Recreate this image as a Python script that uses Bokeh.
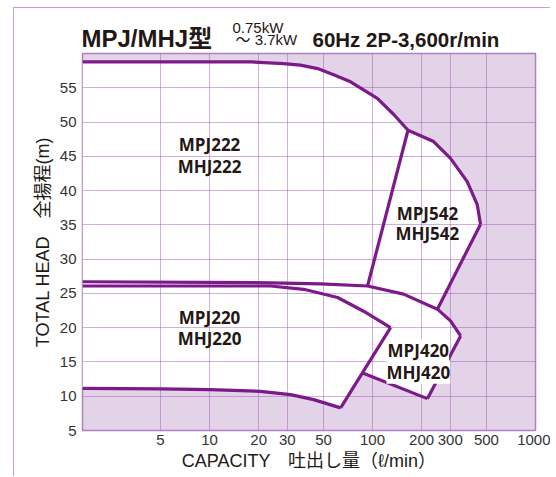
from bokeh.plotting import figure
from bokeh.layouts import column, row
from bokeh.models import FixedTicker, Label, Range1d, NumeralTickFormatter, Div
from bokeh.core.properties import value
from bokeh.embed import file_html
from bokeh.resources import INLINE

# ---- data (capacity l/min, head m) ----
# MPJ222 head curve
a_x = [1.66, 17.8, 28.4, 36.1, 46.0, 57.7, 73.3, 107, 135, 165]
a_y = [58.78, 58.78, 58.53, 58.3, 57.8, 56.9, 55.87, 53.44, 51.1, 48.8]
# MPJ542 head curve
b_x = [165, 237, 301, 381, 439, 460]
b_y = [48.8, 47.15, 44.7, 41.3, 37.95, 35.1]
# MPJ542 right boundary
c_x = [460, 250]
c_y = [35.1, 22.7]
# MPJ542 left boundary
k_x = [165, 93.2]
k_y = [48.8, 26.08]
# MPJ420 head curve
d_x = [1.66, 23.7, 48.0, 93.2, 155, 250, 301, 347]
d_y = [26.7, 26.55, 26.4, 26.08, 24.9, 22.7, 21.0, 18.8]
# MPJ420 lower boundary
f_x = [217, 87]
f_y = [9.65, 13.4]
# MPJ220 head curve
h_x = [1.66, 23.7, 37.8, 61.0, 88.1, 129]
h_y = [26.08, 26.08, 25.6, 24.4, 22.4, 20.0]
# MPJ220 right boundary
j_x = [63.7, 129]
j_y = [8.3, 20.0]
# lower limit curve
i_x = [1.66, 5, 10.1, 20.5, 31.4, 43.5, 53, 63.7]
i_y = [11.15, 11.06, 10.96, 10.71, 10.23, 9.5, 8.88, 8.3]

x_ticks = [5, 10, 20, 30, 50, 100, 200, 300, 500, 1000]
y_ticks = [5, 10, 15, 20, 25, 30, 35, 40, 45, 50, 55]
y_grid = [5, 10, 15, 20, 25, 30, 35, 40, 45, 50, 55, 60]

model_text = ["MPJ222", "MHJ222", "MPJ542", "MHJ542", "MPJ220", "MHJ220", "MPJ420", "MHJ420"]
model_x = [10, 10, 217, 217, 10, 10, 191, 191]
model_y = [46.7, 43.5, 36.7, 33.7, 21.5, 18.4, 16.7, 13.5]

title_text = ["MPJ/MHJ型", "0.75kW", "～ 3.7kW", "60Hz 2P-3,600r/min"]

CURVE = "#7b1a88"
SHADE = "#e2d3e8"
GRID = "#9b4fb0"
FRAME = "#c69dd1"
TXT = "#231815"
FONT = "Liberation Sans, 'Noto Sans CJK JP'"

X0 = 14           # page x where the figures start (inside the outer frame)
W = 536           # figure width
BL, BR = 68, 15   # left / right borders shared by both figures
FX0, FX1 = X0 + BL, X0 + W - BR   # frame in page pixels
HY0, HY1 = 8, 52                  # header strip in page pixels
H_MAIN = 476 - HY1

# ---- header strip (page-pixel coordinates, y downwards) ----
top = figure(width=W, height=HY1 - HY0, x_range=Range1d(FX0, FX1), y_range=Range1d(HY1, HY0),
             output_backend="svg", toolbar_location=None,
             x_axis_location=None, y_axis_location=None,
             min_border_left=BL, min_border_right=BR,
             min_border_top=0, min_border_bottom=0)
top.grid.visible = False
top.outline_line_color = None
top.background_fill_color = "white"
top.border_fill_color = "white"
top.text([FX0 - 1], [38.3], text=[title_text[0]], text_font=value(FONT), text_font_style="bold",
         text_font_size="24px", text_color=TXT, text_baseline="alphabetic")
top.text([232, 235], [27, 38.5], text=title_text[1:3], text_font=value(FONT),
         text_font_size="15px", text_color=TXT, text_baseline="alphabetic")
top.text([312], [38.5], text=[title_text[3]], text_font=value(FONT), text_font_style="bold",
         text_font_size="20.5px", text_color=TXT, text_baseline="alphabetic")

# ---- main chart ----
p = figure(width=W, height=H_MAIN, x_axis_type="log",
           x_range=Range1d(1.66, 1000), y_range=Range1d(5, 60),
           output_backend="svg", toolbar_location=None,
           min_border_left=BL, min_border_right=BR,
           min_border_top=1, min_border_bottom=46)
p.background_fill_color = SHADE
p.border_fill_color = "white"
p.outline_line_color = "#b07fc0"
p.outline_line_width = 1.5

# white operating region (union of model ranges)
i_d = d_x.index(c_x[1])
poly_x = a_x + b_x[1:] + d_x[i_d:] + f_x + i_x[::-1]
poly_y = a_y + b_y[1:] + d_y[i_d:] + f_y + i_y[::-1]
p.patch(poly_x, poly_y, fill_color="white", line_color=None, level="image")

# grid
p.xgrid.ticker = FixedTicker(ticks=x_ticks)
p.ygrid.ticker = FixedTicker(ticks=y_grid)
for g in (p.xgrid, p.ygrid):
    g.grid_line_color = GRID
    g.grid_line_alpha = 0.45
    g.grid_line_width = 1

# curves
e_x = [d_x[-1], f_x[0]]
e_y = [d_y[-1], f_y[0]]
for xs, ys in [(a_x, a_y), (b_x, b_y), (c_x, c_y), (k_x, k_y), (d_x, d_y),
               (e_x, e_y), (f_x, f_y), (h_x, h_y), (j_x, j_y), (i_x, i_y)]:
    p.line(xs, ys, line_color=CURVE, line_width=3.2, line_join="round")

# axes
for ax in (p.xaxis[0], p.yaxis[0]):
    ax.axis_line_color = None
    ax.major_tick_line_color = None
    ax.minor_tick_line_color = None
    ax.major_tick_out = 0
    ax.major_tick_in = 0
    ax.major_label_text_font = "Liberation Sans"
    ax.major_label_text_font_size = "15px"
    ax.major_label_text_color = "#333333"
    ax.axis_label_text_font = FONT
    ax.axis_label_text_font_size = "18px"
    ax.axis_label_text_font_style = "normal"
    ax.axis_label_text_color = TXT
    ax.formatter = NumeralTickFormatter(format="0")

p.xaxis.ticker = FixedTicker(ticks=x_ticks)
p.yaxis.ticker = FixedTicker(ticks=y_ticks)
p.xaxis.major_label_standoff = 4
p.yaxis.major_label_standoff = 6
p.xaxis.axis_label = "CAPACITY\u3000吐出し量（ℓ/min）"
p.yaxis.axis_label = "TOTAL HEAD\u3000全揚程(m)"
p.xaxis.axis_label_standoff = 3
p.yaxis.axis_label_standoff = 4

# model labels
for t, x, y in zip(model_text, model_x, model_y):
    kw = {}
    if t.endswith("420"):
        kw = dict(background_fill_color="white", background_fill_alpha=1.0,
                  padding=0)
    p.add_layout(Label(x=x, y=y, text=t, text_align="center", text_baseline="middle",
                       text_font="Open Sans", text_font_style="bold",
                       text_font_size="17px", text_color=TXT, **kw))

# outer frame lines (left and top) as thin coloured blocks
hline = Div(text="", width=W + 1, height=1, margin=0,
            styles={"background-color": FRAME})
vline = Div(text="", width=1, height=HY1 - HY0 + H_MAIN, margin=0,
            styles={"background-color": FRAME})

layout = column(hline, row(vline, column(top, p, spacing=0), spacing=0),
                spacing=0, margin=(HY0 - 1, 0, 0, X0 - 1))
open("out.html", "w").write(file_html(layout, INLINE))
